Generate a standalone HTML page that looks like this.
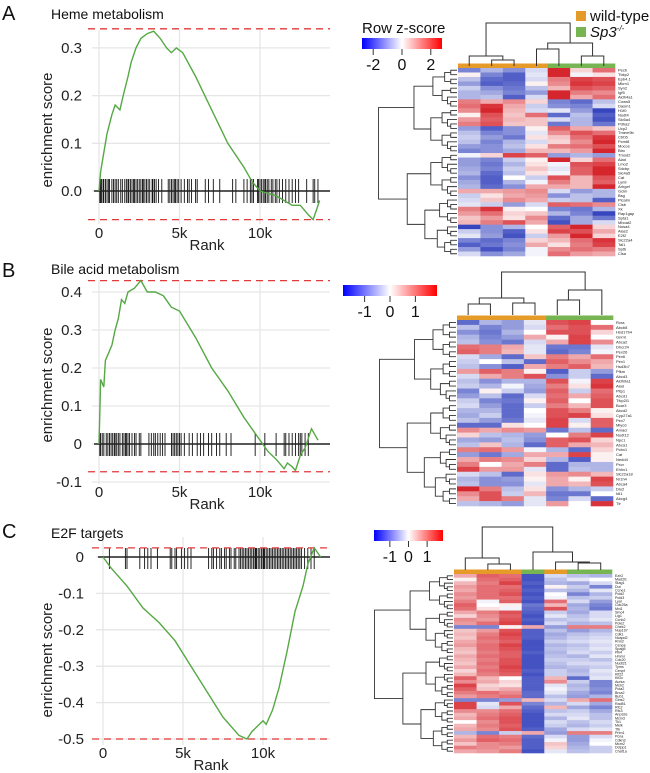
<!DOCTYPE html>
<html><head><meta charset="utf-8"><style>
html,body{margin:0;padding:0;background:#fff;width:650px;height:773px;overflow:hidden}
svg{display:block;font-family:"Liberation Sans",sans-serif}
</style></head><body>
<svg id="fig" width="650" height="773" viewBox="0 0 650 773" xmlns="http://www.w3.org/2000/svg"></svg>
<script>
// ---------- GSEA data ----------
const esRankA=[0,0.1,0.3,0.5,0.8,1.0,1.3,1.5,1.8,2.0,2.3,2.6,3.0,3.4,3.8,4.2,4.5,4.8,5.2,6,7,8,9,9.5,10,10.5,11,11.5,12,12.5,13,13.3,13.5,13.7];
const esValA=[0,0.04,0.08,0.12,0.16,0.18,0.17,0.2,0.24,0.27,0.30,0.32,0.33,0.335,0.32,0.30,0.29,0.30,0.29,0.24,0.17,0.10,0.05,0.02,0.0,-0.005,-0.01,-0.02,-0.03,-0.03,-0.05,-0.06,-0.04,-0.02];
const hitsA=[0.05,0.1,0.15,0.25,0.3,0.4,0.5,0.6,0.65,0.8,0.9,1.0,1.1,1.2,1.35,1.45,1.6,1.7,1.8,1.85,1.95,2.05,2.15,2.2,2.3,2.4,2.5,2.6,2.7,2.75,2.85,2.95,3.05,3.15,3.3,3.35,3.45,3.55,3.7,3.9,4.3,4.4,4.5,4.6,4.7,4.75,4.85,4.95,5.1,5.3,5.5,5.6,5.75,6.0,6.1,6.6,6.8,7.1,7.5,8.3,8.5,9.0,9.2,9.4,9.5,9.6,9.85,9.9,10.0,10.1,10.2,10.3,10.35,10.45,10.55,10.7,10.8,10.95,11.05,11.2,11.4,11.6,11.8,12.0,12.2,12.4,12.9,13.3,13.4,13.6];
const esRankB=[0,0.05,0.1,0.3,0.4,0.6,0.8,1.0,1.2,1.4,1.6,1.8,2.2,2.6,3.0,3.5,4.0,4.5,5.0,6,7,8,9,10,10.5,11,11.5,11.7,12,12.2,12.5,12.8,13.2,13.6];
const esValB=[0,0.08,0.17,0.15,0.22,0.24,0.26,0.30,0.33,0.38,0.37,0.40,0.41,0.43,0.40,0.40,0.39,0.36,0.35,0.28,0.20,0.14,0.07,0.01,-0.02,-0.04,-0.065,-0.05,-0.06,-0.07,-0.03,-0.01,0.04,0.01];
const hitsB=[0.05,0.1,0.2,0.3,0.45,0.55,0.65,0.75,0.85,0.95,1.0,1.1,1.2,1.3,1.45,1.55,1.65,1.7,1.8,1.9,2.05,2.2,2.3,2.5,2.6,3.1,3.25,3.4,3.5,3.65,3.8,3.95,4.1,4.5,4.6,4.7,4.8,4.9,5.0,5.1,5.3,5.6,5.8,6.1,6.3,6.5,6.8,7.0,7.3,7.5,7.9,8.2,9.7,10.3,11.0,11.5,11.6,11.8,12.0,12.2,12.4,12.5,12.6,12.8,13.0];
const esRankC=[0,0.5,1.5,2.5,3.5,4.5,5.5,6.5,7.5,8.5,9,9.3,10,10.2,10.6,11,11.5,12,12.5,12.8,13.2,13.6];
const esValC=[0,-0.03,-0.08,-0.14,-0.18,-0.23,-0.30,-0.37,-0.44,-0.49,-0.50,-0.48,-0.45,-0.46,-0.42,-0.36,-0.26,-0.15,-0.08,-0.02,0.025,0];
const hitsC=[0.4,1.4,1.5,2.3,2.6,2.8,3.0,3.4,4.2,4.3,4.5,4.6,4.9,5.1,5.3,5.5,6.6,6.8,6.9,7.1,7.3,7.4,7.6,7.7,7.9,8.0,8.2,8.3,8.5,8.6,8.7,8.8,8.9,9.0,9.1,9.2,9.3,9.4,9.5,9.55,9.6,9.7,9.8,9.9,10.0,10.05,10.1,10.2,10.3,10.4,10.5,10.6,10.7,10.8,10.9,11.0,11.1,11.2,11.3,11.4,11.5,11.6,11.7,11.8,11.9,12.0,12.1,12.2,12.3,12.4,12.6,12.8,13.0,13.2];
const yTicksA=[0.0,0.1,0.2,0.3], yTickLabA=["0.0","0.1","0.2","0.3"];
const yTicksB=[-0.1,0,0.1,0.2,0.3,0.4], yTickLabB=["-0.1","0","0.1","0.2","0.3","0.4"];
const yTicksC=[-0.5,-0.4,-0.3,-0.2,-0.1,0], yTickLabC=["-0.5","-0.4","-0.3","-0.2","-0.1","0"];
const xTicks=[0,5,10], xTickLab=["0","5k","10k"];
const maxLineA=[0.34,-0.06], maxLineB=[0.43,-0.073], maxLineC=[0.025,-0.5];
// ---------- heatmap data ----------
const genesA=["Pecb","Tbkp2","Epb4.1","Mkrn1","Syn2","Igf5","Aldh4a1","Cows5","Dasm1","H1f0","Nudt4","Slc6a4","Pdha2","Ucp2","Tmem9b","Ctrb5","Pcmt8","Mocos","Btrc","Tmod2","Alad","Lmo2","Sdcbp","Slc4a5","Cat","Lyn9","Arhgef","Gclm","Bsg","Picalm","Clsb","Xk","Rap1gap","Spta1","Mboat2","Nosa4","Alas2","E2f2","Slc22a4","Tal1","Sptb","Clsa"];
const hmA=[[-1,-.6,-.9,-.3,2,.3,1],[.1,-1,-1.3,-.2,1.9,-.1,.2],[-.5,-1.2,-1.3,-.3,.9,1.3,1.2],[-.8,-1.3,-1.2,.1,.8,1.4,1.3],[-.4,-.9,-1.1,-.5,.5,1.2,1.1],[-.6,-.7,-1,-.8,1.7,.9,.8],[-.6,-.5,-1.3,-.3,1.8,.6,1],[.9,.6,.8,.3,-1,-1.2,-.5],[1,1.4,.6,-.4,-.9,-1,-.3],[.8,1.5,.5,-.3,-.2,-.8,-1.5],[.1,1.2,.4,1,-1.2,-.5,-1.3],[.7,1.1,.5,.4,-.3,-.6,-1.4],[.9,1.2,.4,.4,-1.1,-.6,-1.1],[-.8,-1.3,-.9,.1,1.1,.6,.4],[-.5,-1,-.9,-.2,.8,1.2,1],[-.4,-.8,-1.1,.2,.4,1,1.4],[-.5,-1,-.6,-.3,.3,.8,1.8],[-.8,-.9,-.5,.2,.9,1,1.2],[-1,-.9,-.7,.5,.5,.7,1.5],[-.1,.3,1.3,1.1,-.8,-.6,-.8],[-.8,-1,-.4,.1,1.5,.3,1],[-.8,-1.1,-.6,.2,-.1,1.2,1.3],[-.7,-1,-.4,.4,-.2,1.1,1.7],[-.6,-1.2,-.5,.2,-.1,1.1,1.6],[-.9,-1.3,0,-.4,1.2,.5,1.2],[-.7,-1.3,-.6,-.1,.9,.5,1.1],[-.6,-1.2,-.9,.6,.6,.5,1.6],[.6,.6,.7,.8,-.3,-.8,-.6],[-.4,.2,.6,.7,-.9,-.5,-.6],[-.3,.4,.8,.6,-.4,-.5,-1.3],[-.2,-.4,-.8,-.3,1.1,1,.8],[.9,1.4,.1,0,-1,-1.1,-.6],[.7,1,.3,.4,-.6,-1,-1.5],[.4,.7,.2,.8,-1.2,-.7,-1.1],[.5,.9,1.2,.6,-1.4,-.7,-.3],[-1.5,-.9,-.6,0,1.1,1.5,.3],[-.4,-.9,-1.3,.2,1.3,1.2,.6],[-.2,-.8,-1.4,-.4,.7,1.8,.3],[-1,-1.2,-1,.3,.5,1,1.4],[-1.3,-1.1,-.9,.6,.2,.9,1.3],[-.8,-1.4,-1,-.1,.8,1,.9],[-.3,-.9,-.7,-.1,1,.7,.6]];
const genesB=["Rxra","Abcb8","Hsd17b4","Gnmt","Abca2","Dhcr24","Pex26","Pex6","Pex1","Hsd3b7","Pfkm","Abcd3","Aldh9a1","Alad","Pltp1","Abcd1","Tfcp2l1","Bcar3","Abcd2","Cyp27a1","Pex7","Mlycd","Amacr","Nudt12","Npc1","Abca1","Pcbx1","Cat","Nedd4","Pxcr","Ehhx1","Slc22a18","Nr1h4","Abca4","Dio2","Idi1","Abcg4","Ttr"];
const hmB=[[-1.2,-.6,-.8,-.2,1.2,1.3,0],[-.5,-1,-.8,-.3,1,1.2,1],[-.9,-1.1,-.6,0,1.2,1.2,.3],[-.6,-1,-.8,.6,.1,1.3,0],[-.5,-.9,-1.1,-.3,.6,1.3,.8],[1,.9,.6,-.2,-1.1,-1.1,-.2],[1.1,.9,.5,-.2,-1.2,-1,-.1],[-.3,-.7,-1.2,.4,.9,.6,1],[-.4,0,-.5,-1.2,1.1,.8,.6],[-.5,-.9,-1.3,.6,.9,1.1,.5],[.7,1.1,.9,.1,-1.3,-.4,-.8],[-.3,.6,.9,1.2,-.9,-.4,-1.2],[-.5,-.9,-.6,-.6,1.2,-.1,1.3],[-.4,-.6,-.1,-.7,.9,.2,1.4],[-1,.1,-.4,-.8,1.1,-.4,1],[-.8,-.5,-1.2,-.3,1,.6,1.1],[-.4,-1,-1.1,.1,1.1,0,1.2],[-.3,-.8,-1.2,-.4,.9,.5,1.2],[-.6,-.6,-1.2,0,1.2,.9,.1],[-.7,-.4,-1.2,-.1,1.2,1.3,.2],[-.5,-.8,-1.1,-.2,1.3,-.3,1.1],[-1.2,-1.2,.2,0,1.3,.1,1.1],[.8,.6,.8,.7,-1.1,-.5,-1.2],[.3,-.5,-.6,-.8,0,.9,1.3],[-.7,-.8,-.5,-.9,1.1,1.2,.3],[-.5,.4,-.6,-1.2,1.1,.6,.5],[.9,1,.7,-.1,-.6,-1.2,.3],[-.8,-1.1,-.7,.6,.6,1.3,.1],[.6,.9,.8,.3,-.6,-1.3,.1],[.9,0,.6,.9,-1.2,-.6,-.6],[1.3,.7,.7,-.2,-1.2,-.5,-.6],[-.3,-.5,-1.2,.2,.7,.8,.5],[-.6,-.9,-.8,.1,.6,.1,1.3],[-.5,-.9,-.9,-.2,.6,.5,1.2],[1.5,.9,-.5,.2,-.9,-.6,-.4],[.8,1.2,-.4,.5,-1.1,-1.1,0],[.6,1.2,.9,-.2,-1,-.3,-1.2],[-.5,-.6,-.8,-.2,.7,0,1.4]];
const genesC=["Ezh2","Mad2l1","Stag1","Dut","Ccne1","Pold2","Pold3","Lyar","Cdc25a","Mxi1","Smc4","Lig1","Ccnb2","Pole2","Chek2","Nup107","Cdk1","Ncapd2","Rrm2","Cenpe","Spag5","Plk4","Hmmr","Cdc20","Nudt21","Tyms","Cenpf","Kif22","Kif2c","Aurka","Msh2","Pola2","Brca2","Bub1","Gins2","Rad51","Rfc2","Rfc3","Anp32e","Mcm3","Tk1","Melk","Ttk","Prim1","Pcna","Cdkn3","Mcm2","Dctpp1","Chaf1a"];
const hmC=[[.6,1.1,1,-1.4,-.3,-.5,-.6],[.1,1,1.1,-1.4,-.5,-.2,0],[.5,.9,1.3,-1.3,-.6,-.7,-.3],[.7,1,1,-1.4,.1,-.4,-1],[.6,1,1.1,-1.3,-.5,-.6,-.2],[.8,1,1.2,-1.4,0,-1,-.6],[.7,1,1,-1.3,-.1,-.5,-.4],[.9,-.1,1.1,-1.4,1,-.3,-.8],[1.1,0,.1,-1.1,.5,-.7,-1],[1,.2,-.1,-1.2,1.2,-.6,-1.1],[.6,.9,1.2,-1.3,-.4,-.7,-.3],[.3,.8,1.1,-1.4,-.2,-.5,-.3],[.8,.7,1.2,-1.3,-.5,-.4,-.2],[.7,1,1.3,-1.4,-.3,-.6,-.5],[-1,-1,.1,.6,-.8,.9,.9],[.4,.7,1.2,-1.3,-.5,-.8,-.6],[.5,.9,1.3,-1.3,-.7,-.5,-.4],[.4,1,1.2,-1.3,-.6,-.4,-.3],[.6,.9,1.1,-1.4,-.4,-.3,-.2],[.7,1,1.3,-1.4,-.6,-.5,-.3],[.5,1,1.2,-1.4,-.5,-.4,-.2],[.4,.9,1.1,-1.3,-.6,-.3,-.4],[.6,1,1.1,-1.4,-.5,-.6,-.2],[.5,.9,1.2,-1.4,-.4,-.4,-.5],[.4,1,1.2,-1.4,-.5,-.3,-.3],[.6,.9,1.3,-1.4,-.6,-.5,-.4],[.3,1,1.2,-1.3,-.4,-.6,-.2],[.5,.9,1.1,-1.4,-.4,-.5,-.3],[1.1,.5,0,-1.3,.5,-1.2,-.2],[.8,.6,.3,-1.3,.8,-.4,-1],[1.3,.3,.2,-1.3,-.2,-.6,-1],[1.1,.4,.6,-1.3,-.1,-.5,-.9],[.9,1,.8,-1.2,-.2,-.7,-1],[.7,.9,1,-1.2,-.5,-.8,-.6],[-1,-1,-.8,.5,-.3,.6,1],[1.3,-.2,1.2,-1,-.6,-.3,-.7],[1.3,-.3,.6,-1.2,.5,-.7,-1],[.8,.8,1,-1.3,-.5,-.4,-.7],[.5,.9,1.1,-1.4,-.3,-.3,-.5],[.6,1,1.2,-1.4,-.6,-.2,-.5],[0,.8,1.2,-1.4,-.3,-.5,-.3],[.5,.9,1.1,-1.4,-.4,-.6,-.4],[.6,.8,1.2,-1.3,-.7,-.3,-.2],[-.6,-1,-.4,.6,-.8,.9,.9],[.5,1,.9,-1.2,-.3,-.8,-.3],[.7,1.1,1,-1.3,-.1,-.8,-.1],[.4,.8,.9,-1.3,.4,-.7,0],[.9,.8,.7,-1.3,.3,-.6,-.4],[.6,.7,.9,-1.4,-.2,-.5,-.4]];
const annoA=["wt","wt","wt","wt","ko","ko","ko"];
const annoB=["wt","wt","wt","wt","ko","ko","ko"];
const annoC=["wt","wt","wt","ko","wt","ko","ko"];
const keyLabA=["-2","0","2"], keyLabB=["-1","0","1"], keyLabC=["-1","0","1"];

const NS="http://www.w3.org/2000/svg";
const fig=document.getElementById('fig');
function mk(tag,attrs,parent,txt){const e=document.createElementNS(NS,tag);for(const k in attrs)e.setAttribute(k,attrs[k]);if(txt!==undefined)e.textContent=txt;(parent||fig).appendChild(e);return e;}

// ---------- GSEA panel ----------
function gsea(p){
  const g=mk('g',{});
  
  
  const X=r=>p.x0+r*p.xk, Y=v=>p.y0-v*p.yk;
  // grid
  p.yt.forEach(v=>{const l=mk('line',{x1:p.gx0,x2:330,y1:Y(v),y2:Y(v),stroke:'#e6e6e6','stroke-width':1.3},g);
    });
  xTicks.forEach(v=>{const l=mk('line',{x1:X(v),x2:X(v),y1:p.gy0,y2:p.gy1,stroke:'#e6e6e6','stroke-width':1.3},g);
    });
  // hits
  p.hits.forEach(h=>{const l=mk('line',{x1:X(h),x2:X(h),y1:p.h0,y2:p.h1,stroke:'#111','stroke-width':0.9},g);
    });
  const z=mk('line',{x1:p.gx0+2,x2:330,y1:Y(0),y2:Y(0),stroke:'#222','stroke-width':1.5},g);
  
  // dashed max lines
  p.ml.forEach(v=>{const l=mk('line',{x1:p.gx0-4,x2:330,y1:Y(v),y2:Y(v),stroke:'#e03a3a','stroke-width':1.3,'stroke-dasharray':'7,5'},g);
    });
  // curve
  const d=p.rk.map((r,i)=>(i?'L':'M')+X(r).toFixed(1)+','+Y(p.es[i]).toFixed(1)).join('');
  const c=mk('path',{d:d,fill:'none',stroke:'#55a844','stroke-width':1.4},g);
  
  // ticks
  p.yt.forEach((v,i)=>{const t=mk('text',{x:p.ylx,y:Y(v)+5,'text-anchor':'end','font-size':15,fill:'#222'},g,p.yl[i]);
    });
  xTicks.forEach((v,i)=>{const t=mk('text',{x:X(v),y:p.xly,'text-anchor':'middle','font-size':15,fill:'#222'},g,xTickLab[i]);
    });
  let t=mk('text',{x:p.x0+108,y:p.xly+12,'text-anchor':'middle','font-size':15,fill:'#222'},g,'Rank');
  
  t=mk('text',{transform:`translate(52,${p.ay}) rotate(-90)`,'text-anchor':'middle','font-size':15,fill:'#222'},g,'enrichment score');
  
  t=mk('text',{x:51,y:p.ty,'font-size':14,fill:'#111'},g,p.title);
  
  t=mk('text',{x:2,y:p.ly,'font-size':20,fill:'#111'},g,p.letter);
  
}
gsea({name:'heme',x0:99,xk:16.1,y0:191,yk:477,yt:yTicksA,yl:yTickLabA,hits:hitsA,h0:179,h1:203,ml:maxLineA,rk:esRankA,es:esValA,gx0:92,gy0:30,gy1:224,ylx:82,xly:238,ay:130,ty:19,ly:20,letter:'A',title:'Heme metabolism'});
gsea({name:'bile-acid',x0:99,xk:16.1,y0:444,yk:380,yt:yTicksB,yl:yTickLabB,hits:hitsB,h0:433,h1:456,ml:maxLineB,rk:esRankB,es:esValB,gx0:92,gy0:280,gy1:484,ylx:82,xly:497,ay:385,ty:274,ly:277,letter:'B',title:'Bile acid metabolism'});
gsea({name:'e2f',x0:103,xk:16,y0:557,yk:364,yt:yTicksC,yl:yTickLabC,hits:hitsC,h0:548,h1:569,ml:maxLineC,rk:esRankC,es:esValC,gx0:96,gy0:537,gy1:745,ylx:84,xly:758,ay:660,ty:538,ly:538,letter:'C',title:'E2F targets'});

// ---------- heatmaps ----------
function col(v){const t=Math.max(-1,Math.min(1,v/1.5));
  const e=t>0?[214,38,45]:[55,70,190];const a=Math.abs(t);
  return `rgb(${Math.round(255+(e[0]-255)*a)},${Math.round(255+(e[1]-255)*a)},${Math.round(255+(e[2]-255)*a)})`;}
function leftDendro(g,n,x0,y0,rh,xl){
  function b(lo,hi){ if(hi-lo===1) return {y:y0+(lo+0.5)*rh,x:x0};
    let m=lo+Math.max(1,Math.round((hi-lo)*0.45));
    const A=b(lo,m),B=b(m,hi);
    const x=x0-(x0-xl)*Math.pow((hi-lo-1)/(n-1),0.75)-1.5;
    const p=mk('path',{d:`M${A.x},${A.y}H${x}V${B.y}H${B.x}`,fill:'none',stroke:'#333','stroke-width':0.9},g);
    
    return {x:x,y:(A.y+B.y)/2};}
  b(0,n);
}
function heat(h){
  const g=mk('g',{});
  
  
  const n=h.m.length, rh=(h.y1-h.y0)/n, cw=(h.x1-h.x0)/7;
  h.m.forEach((row,i)=>row.forEach((v,j)=>{
    const r=mk('rect',{x:h.x0+j*cw,y:h.y0+i*rh,width:cw+0.3,height:rh+0.3,fill:col(v)},g);
    }));
  h.anno.forEach((a,j)=>{const r=mk('rect',{x:h.x0+j*cw,y:h.y0-4.5,width:cw+0.3,height:4.5,fill:a==='wt'?'#e69a28':'#77b552'},g);
    });
  h.genes.forEach((s,i)=>{const t=mk('text',{x:h.x1+3,y:h.y0+(i+0.8)*rh,'font-size':Math.min(4,rh),fill:'#222'},g,s);
    });
  leftDendro(g,n,h.x0-1,h.y0,rh,h.dl);
  const cx=j=>h.x0+(j+0.5)*cw;
  h.top(cx).forEach(d=>{const p=mk('path',{d:d,fill:'none',stroke:'#333','stroke-width':1},g);
    });
  // key
  const gid='grad'+h.name;
  const lg=mk('linearGradient',{id:gid,x1:0,x2:1,y1:0,y2:0},mk('defs',{},g));
  [['0','#0000ff'],['0.5','#ffffff'],['1','#ff0000']].forEach(s=>mk('stop',{offset:s[0],'stop-color':s[1]},lg));
  const k=mk('rect',{x:h.kx,y:h.ky,width:h.kw,height:h.kh,fill:`url(#${gid})`},g);
  
  h.kl.forEach((s,i)=>{const x=h.kx+h.kw*(0.5+(i-1)*h.ks);
    mk('line',{x1:x,x2:x,y1:h.ky+h.kh,y2:h.ky+h.kh+6,stroke:'#333','stroke-width':1},g);
    const t=mk('text',{x:x,y:h.ky+h.kh+21,'text-anchor':'middle','font-size':16,fill:'#111'},g,s);
    });
}
heat({name:'heme',m:hmA,genes:genesA,anno:annoA,x0:458,x1:615,y0:68,y1:256,dl:380,kx:362,ky:38,kw:80,kh:11,ks:0.36,kl:keyLabA,
  top:c=>[`M${c(1)},66V60H${c(2)}V66`,`M${c(0)},66V56H${(c(1)+c(2))/2}V60`,`M${c(3)},66V49H${c(4)}V66`,`M${c(5)},66V56H${c(6)}V56V66`,`M${(c(3)+c(4))/2},49V43H${(c(5)+c(6))/2}V56`,`M${(c(0)+c(1.5))/2},56V23H${(c(3.5)+c(5.5))/2}V43`]});
heat({name:'bile-acid',m:hmB,genes:genesB,anno:annoB,x0:457,x1:613,y0:320,y1:506,dl:381,kx:343,ky:285,kw:94,kh:11,ks:0.27,kl:keyLabB,
  top:c=>[`M${c(0)},315V304H${c(1)}V315`,`M${c(2)},315V303H${c(3)}V315`,`M${(c(0)+c(1))/2},304V298H${(c(2)+c(3))/2}V303`,`M${c(4)},315V300H${c(5)}V315`,`M${(c(4)+c(5))/2},300V290H${c(6)}V315`,`M${(c(0.5)+c(2.5))/2},298V272H${(c(4.5)+c(6))/2}V290`]});
heat({name:'e2f',m:hmC,genes:genesC,anno:annoC,x0:454,x1:612,y0:574,y1:753,dl:376,kx:374,ky:530,kw:69,kh:11,ks:0.27,kl:keyLabC,
  top:c=>[`M${c(1)},570V564H${c(2)}V570`,`M${c(0)},570V558H${(c(1)+c(2))/2}V564`,`M${c(5)},570V563H${c(6)}V570`,`M${c(4)},570V562H${(c(5)+c(6))/2}V563`,`M${c(3)},570V552H${(c(4)+c(5.5))/2}V562`,`M${(c(0)+c(1.5))/2},558V527H${(c(3)+c(4.75))/2}V552`]});

// row z-score title + legend
let t=mk('text',{x:362,y:33,'font-size':15,fill:'#111'},fig,'Row z-score');

let r=mk('rect',{x:576,y:11,width:10,height:10,fill:'#e69a28'});

t=mk('text',{x:590,y:21,'font-size':15,fill:'#111'},fig,'wild-type');

r=mk('rect',{x:576,y:27,width:10,height:10,fill:'#77b552'});

t=mk('text',{x:590,y:37,'font-size':15,fill:'#111','font-style':'italic'},fig,'Sp3');

mk('tspan',{'font-size':8,dy:-6},t,'-/-');
</script>
</body></html>
